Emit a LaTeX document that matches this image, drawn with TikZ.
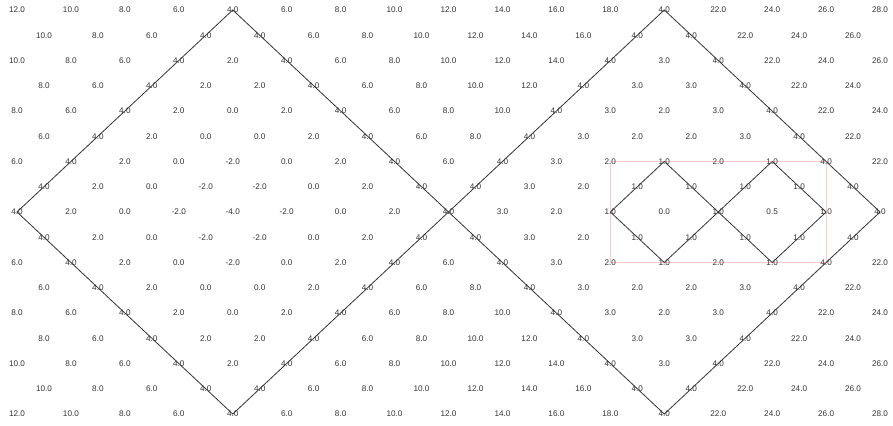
\documentclass[tikz,border=0pt]{standalone}
\usepackage{fontspec}
\setmainfont{Liberation Sans}
\usetikzlibrary{backgrounds}

\begin{document}
\begin{tikzpicture}[x=26.97bp, y=-25.25bp, val/.style={font=\fontsize{8.2}{9}\selectfont, text=black!80, inner sep=0pt}, front/.style={black!80, line width=0.8bp}, cellbox/.style={pink!85!white, line width=1bp}]
			\useasboundingbox (-0.63,-0.396) rectangle (32.48,16.475);
			\foreach \r/\o/\vals in {0/0/{12.0,10.0,8.0,6.0,4.0,6.0,8.0,10.0,12.0,14.0,16.0,18.0,4.0,22.0,24.0,26.0,28.0},
				1/1/{10.0,8.0,6.0,4.0,4.0,6.0,8.0,10.0,12.0,14.0,16.0,4.0,4.0,22.0,24.0,26.0},
				2/0/{10.0,8.0,6.0,4.0,2.0,4.0,6.0,8.0,10.0,12.0,14.0,4.0,3.0,4.0,22.0,24.0,26.0},
				3/1/{8.0,6.0,4.0,2.0,2.0,4.0,6.0,8.0,10.0,12.0,4.0,3.0,3.0,4.0,22.0,24.0},
				4/0/{8.0,6.0,4.0,2.0,0.0,2.0,4.0,6.0,8.0,10.0,4.0,3.0,2.0,3.0,4.0,22.0,24.0},
				5/1/{6.0,4.0,2.0,0.0,0.0,2.0,4.0,6.0,8.0,4.0,3.0,2.0,2.0,3.0,4.0,22.0},
				6/0/{6.0,4.0,2.0,0.0,-2.0,0.0,2.0,4.0,6.0,4.0,3.0,2.0,1.0,2.0,1.0,4.0,22.0},
				7/1/{4.0,2.0,0.0,-2.0,-2.0,0.0,2.0,4.0,4.0,3.0,2.0,1.0,1.0,1.0,1.0,4.0}}
				\foreach \v [count=\k from 0] in \vals {
					\pgfmathtruncatemacro\c{2*\k+\o}
					\pgfmathtruncatemacro\rr{16-\r}
					\node[val] (v\r-\c) at (\c,\r) {\v};
					\node[val] (v\rr-\c) at (\c,\rr) {\v};
				}
			\foreach \v [count=\k from 0] in {4.0,2.0,0.0,-2.0,-4.0,-2.0,0.0,2.0,4.0,3.0,2.0,1.0,0.0,1.0,0.5,1.0,4.0} {
				\pgfmathtruncatemacro\c{2*\k}
				\node[val] (v8-\c) at (\c,8) {\v};
			}
			\begin{scope}[on background layer]
				\draw[cellbox] (v6-22.center) rectangle (v10-30.center);
				\draw[front] (v0-8.center) -- (v8-0.center) -- (v16-8.center) -- (v8-16.center) -- cycle;
				\draw[front] (v0-24.center) -- (v8-16.center) -- (v16-24.center) -- (v8-32.center) -- cycle;
				\draw[front] (v6-24.center) -- (v8-22.center) -- (v10-24.center) -- (v8-26.center) -- cycle;
				\draw[front] (v6-28.center) -- (v8-26.center) -- (v10-28.center) -- (v8-30.center) -- cycle;
			\end{scope}
		\end{tikzpicture}
\end{document}
